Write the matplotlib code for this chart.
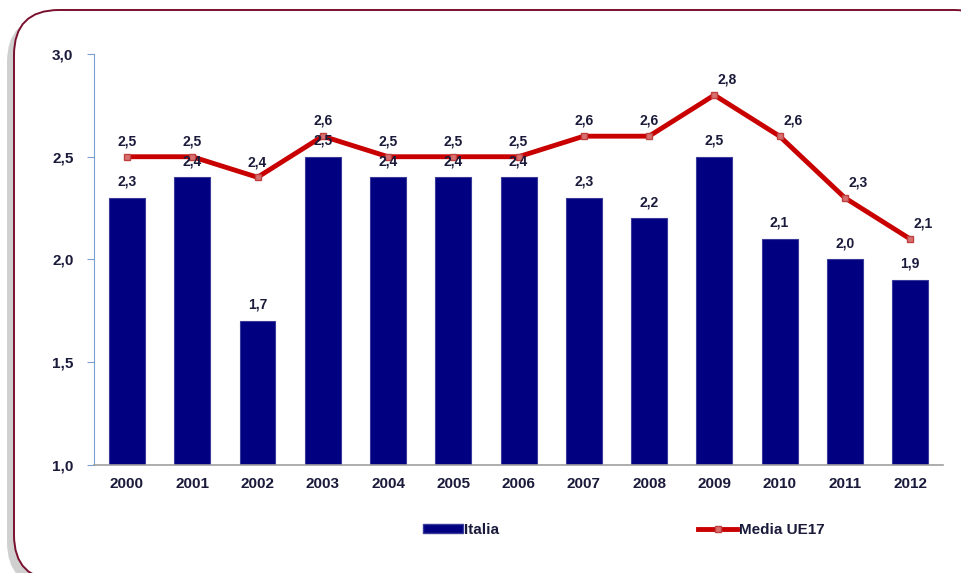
import matplotlib.pyplot as plt
import numpy as np
from matplotlib.patches import FancyBboxPatch
from matplotlib.lines import Line2D
from matplotlib.patches import Patch

plt.rcParams['font.family'] = ['Liberation Sans', 'DejaVu Sans']

years = ['2000', '2001', '2002', '2003', '2004', '2005', '2006',
         '2007', '2008', '2009', '2010', '2011', '2012']
italia = [2.3, 2.4, 1.7, 2.5, 2.4, 2.4, 2.4, 2.3, 2.2, 2.5, 2.1, 2.0, 1.9]
media_ue17 = [2.5, 2.5, 2.4, 2.6, 2.5, 2.5, 2.5, 2.6, 2.6, 2.8, 2.6, 2.3, 2.1]
y_ticks = [1.0, 1.5, 2.0, 2.5, 3.0]

def fmt(v):
    return f'{v:.1f}'.replace('.', ',')

fig = plt.figure(figsize=(9.61, 5.73), dpi=100)

# rounded frame with a soft shadow (inches), running off the right edge
shadow = FancyBboxPatch((0.07, -0.14), 9.85, 5.70, transform=fig.dpi_scale_trans,
                        boxstyle='round,pad=0,rounding_size=0.45',
                        facecolor='#bdbdbd', edgecolor='none', alpha=0.7, zorder=-2)
frame = FancyBboxPatch((0.14, -0.07), 9.85, 5.70, transform=fig.dpi_scale_trans,
                       boxstyle='round,pad=0,rounding_size=0.45',
                       facecolor='white', edgecolor='#7a1030', linewidth=1.4, zorder=-1)
fig.patches.extend([shadow, frame])

ax = fig.add_axes([0.0982, 0.1885, 0.8828, 0.7173])
ax.set_zorder(2)
ax.set_facecolor('none')
x = np.arange(len(years))

ax.bar(x, italia, width=0.55, color='#000080', edgecolor='#3a3a9a',
       linewidth=0.8, zorder=2)
ax.plot(x, media_ue17, color='#c80000', linewidth=3.5, marker='s', markersize=5,
        markerfacecolor='#d87070', markeredgecolor='#c04040', zorder=3)

for i, v in enumerate(italia):
    ax.text(x[i], v + 0.045, fmt(v), ha='center', va='bottom', fontsize=10,
            fontweight='bold', color='#1a1a3a', zorder=4)
for i, v in enumerate(media_ue17):
    dx = 0.0 if i < 9 else 0.2
    ax.text(x[i] + dx, v + 0.04, fmt(v), ha='center', va='bottom', fontsize=10,
            fontweight='bold', color='#1a1a3a', zorder=4)

ax.set_xlim(-0.5, len(years) - 0.5)
ax.set_ylim(1.0, 3.0)
ax.set_yticks(y_ticks)
ax.set_yticklabels([fmt(v) for v in y_ticks], fontsize=11, fontweight='bold',
                   color='#1a1a3a')
ax.set_xticks(x)
ax.set_xticklabels(years, fontsize=11, fontweight='bold', color='#1a1a3a')
ax.tick_params(axis='x', length=0, pad=9)
ax.tick_params(axis='y', length=5, color='#7aa0d0', pad=10)

for side in ['top', 'right']:
    ax.spines[side].set_visible(False)
ax.spines['left'].set_color('#7aa0d0')
ax.spines['bottom'].set_color('#a0a0a0')
ax.spines['bottom'].set_linewidth(1.2)

handles = [Patch(facecolor='#000080', edgecolor='#3a3a9a', label='Italia'),
           Line2D([0], [0], color='#c80000', linewidth=3.5, marker='s', markersize=5,
                  markerfacecolor='#d87070', markeredgecolor='#c04040',
                  label='Media UE17')]
leg = fig.legend(handles=handles, loc='center', bbox_to_anchor=(0.649, 0.075), ncol=2,
                 frameon=False, fontsize=11, columnspacing=13, handlelength=2.6,
                 handletextpad=0.1, handleheight=0.5)
for t in leg.get_texts():
    t.set_fontweight('bold')
    t.set_color('#1a1a3a')

fig.savefig('out.png', dpi=100)
